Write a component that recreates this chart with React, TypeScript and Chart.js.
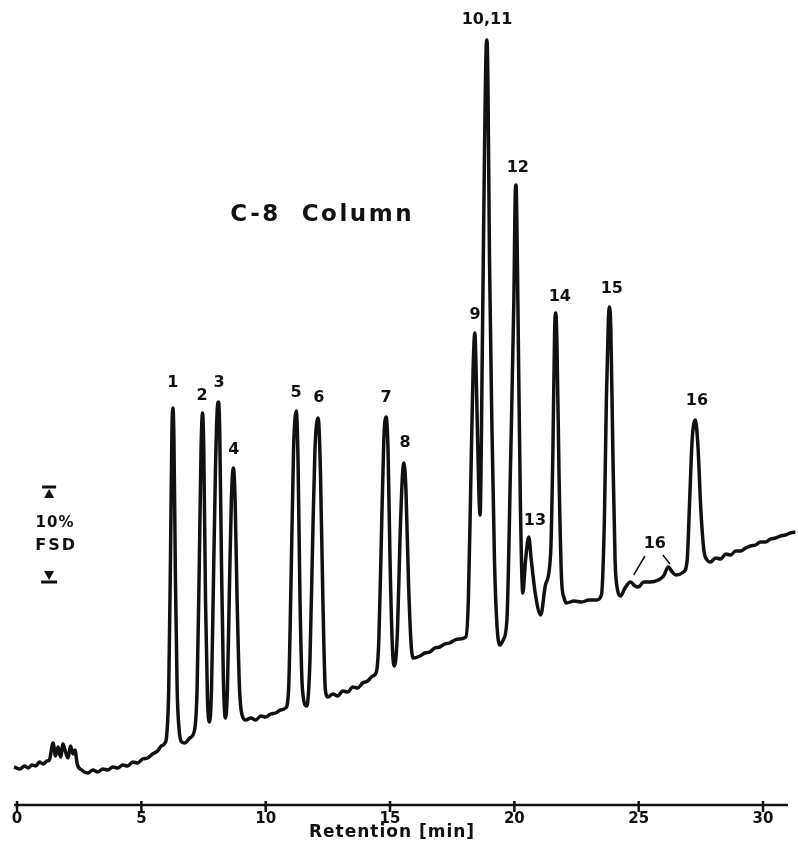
import { useEffect, useRef } from "react";
import { Chart, registerables } from "chart.js";

Chart.register(...registerables);

const FONT = '"DejaVu Sans", "Liberation Sans", sans-serif';
const INK = "#111111";

// Retention time (min) and detector response (arbitrary units; 95 units = 10% FSD)
const retentionMin = [
  -0.12, 0.12, 0.3, 0.45, 0.6, 0.75, 0.9, 1.05, 1.2, 1.3, 1.45, 1.55, 1.65, 1.75, 1.85, 1.95, 2.05, 2.15, 2.25, 2.33, 2.42,
  2.6, 2.85, 3.05, 3.25, 3.45, 3.65, 3.85, 4.05, 4.25, 4.45, 4.65, 4.85, 5.05, 5.25, 5.45, 5.65, 5.8, 5.95,
  6.02, 6.1, 6.17, 6.23, 6.27, 6.31, 6.37, 6.44, 6.52, 6.62, 6.75, 6.95,
  7.14, 7.24, 7.32, 7.4, 7.46, 7.51, 7.58, 7.66, 7.74,
  7.82, 7.9, 7.98, 8.05, 8.1, 8.15, 8.22, 8.3, 8.38,
  8.46, 8.54, 8.62, 8.7, 8.77, 8.85, 8.95, 9.05, 9.2, 9.4, 9.6, 9.8, 10.0, 10.2, 10.4, 10.6, 10.8,
  10.92, 11.02, 11.12, 11.23, 11.3, 11.38, 11.48, 11.65,
  11.78, 11.88, 11.98, 12.11, 12.2, 12.3, 12.4, 12.5, 12.7, 12.9, 13.1, 13.3, 13.5, 13.7, 13.9, 14.1, 14.3, 14.45,
  14.55, 14.65, 14.75, 14.84, 14.92, 15.0, 15.1, 15.18,
  15.3, 15.4, 15.5, 15.56, 15.64, 15.74, 15.85, 15.95, 16.2, 16.4, 16.6, 16.8, 17.0, 17.2, 17.4, 17.6, 17.8, 18.05,
  18.15, 18.25, 18.34, 18.41, 18.47, 18.55, 18.62,
  18.72, 18.8, 18.87, 18.9, 18.94, 19.0, 19.1, 19.2, 19.3, 19.42, 19.55,
  19.7, 19.85, 19.98, 20.04, 20.07, 20.1, 20.14, 20.24, 20.34,
  20.45, 20.58, 20.68, 20.85, 21.06,
  21.25, 21.46, 21.55, 21.62, 21.66, 21.71, 21.8, 21.9, 22.0, 22.1, 22.4, 22.7, 23.0, 23.3, 23.5,
  23.62, 23.7, 23.78, 23.83, 23.88, 23.96, 24.05, 24.15, 24.27, 24.45, 24.67, 24.85, 24.99, 25.2, 25.47, 25.79, 26.0,
  26.19, 26.35, 26.5, 26.8,
  26.95, 27.05, 27.15, 27.28, 27.38, 27.5, 27.62, 27.75, 27.88, 28.1, 28.3, 28.5, 28.7, 28.9, 29.1, 29.3, 29.5, 29.7,
  29.9, 30.1, 30.3, 30.5, 30.7, 30.9, 31.1, 31.3,
];

const response = [
  37, 35, 38, 36, 39, 38, 42, 40, 43, 44, 61, 48, 57, 47, 60, 52, 46, 58, 50, 54, 40,
  34, 31, 34, 32, 35, 34, 37, 36, 39, 38, 42, 41, 45, 46, 50, 53, 58, 61,
  69, 114, 244, 374, 396, 364, 224, 114, 74, 62, 61, 66,
  74, 114, 224, 354, 391, 354, 204, 104, 82,
  114, 224, 334, 394, 402, 374, 244, 124, 86,
  114, 214, 304, 336, 304, 204, 114, 89, 84, 86, 84, 88, 87, 90, 91, 94, 96,
  114, 224, 354, 393, 344, 204, 114, 98,
  144, 254, 354, 386, 334, 204, 114, 107, 110, 108, 113, 112, 117, 116, 121, 123, 128, 132,
  164, 264, 364, 387, 354, 244, 154, 138,
  174, 264, 329, 341, 314, 224, 159, 146, 148, 151, 152, 156, 157, 160, 161, 164, 165, 167,
  204, 324, 434, 471, 424, 334, 289,
  474, 654, 759, 764, 714, 544, 374, 244, 179, 159, 164,
  184, 344, 504, 614, 619, 584, 504, 304, 211,
  244, 267, 244, 209, 189,
  219, 251, 354, 474, 491, 464, 324, 224, 206, 201, 203, 202, 204, 204, 209,
  284, 404, 484, 497, 474, 354, 244, 214, 208, 216, 222, 218, 217, 222, 222, 224, 228,
  237, 232, 229, 232,
  244, 304, 364, 384, 359, 294, 254, 244, 242, 246, 245, 250, 249, 253, 253, 256, 258, 259,
  262, 262, 265, 266, 268, 269, 271, 272,
];

const xTickValues = [0, 5, 10, 15, 20, 25, 30];

const peakLabels = ["1", "2", "3", "4", "5", "6", "7", "8", "9", "10,11", "12", "13", "14", "15", "16", "16"];
const peakLabelTimes = [6.26, 7.44, 8.12, 8.72, 11.22, 12.14, 14.84, 15.6, 18.42, 18.9, 20.14, 20.83, 21.83, 23.92, 27.34, 25.65];
const peakLabelLevels = [421, 408, 421, 354, 411, 406, 406, 361, 489, 784, 636, 283, 507, 515, 403, 260];

export default function App() {
  const ref = useRef<HTMLCanvasElement>(null);

  useEffect(() => {
    if (!ref.current) return;

    const annot = {
      id: "annot",
      afterDraw(chart: any) {
        const { ctx, chartArea } = chart;
        const xs = chart.scales.x;
        const ys = chart.scales.y;
        const px = (t: number) => xs.getPixelForValue(t);
        const py = (v: number) => ys.getPixelForValue(v);
        ctx.save();
        ctx.fillStyle = INK;
        ctx.strokeStyle = INK;

        // x axis line + tick marks
        const axisY = chartArea.bottom + 1;
        ctx.lineWidth = 2.5;
        ctx.beginPath();
        ctx.moveTo(px(-0.12), axisY);
        ctx.lineTo(px(31.0), axisY);
        ctx.stroke();
        xTickValues.forEach((v) => {
          ctx.beginPath();
          ctx.moveTo(px(v), axisY - 4);
          ctx.lineTo(px(v), axisY + 7);
          ctx.stroke();
        });

        // axis title
        ctx.font = `bold 17px ${FONT}`;
        (ctx as any).letterSpacing = "1px";
        ctx.textAlign = "center";
        ctx.textBaseline = "middle";
        ctx.fillText("Retention [min]", px(15.08), py(-29));

        // chart title
        ctx.font = `bold 23px ${FONT}`;
        (ctx as any).letterSpacing = "2.5px";
        ctx.fillText("C-8  Column", px(12.27), py(589));

        // peak labels
        ctx.font = `bold 16px ${FONT}`;
        (ctx as any).letterSpacing = "0px";
        peakLabels.forEach((lab, i) => {
          ctx.fillText(lab, px(peakLabelTimes[i]), py(peakLabelLevels[i]));
        });

        // leader lines for minor peak 16
        ctx.lineWidth = 1.5;
        ctx.beginPath();
        ctx.moveTo(px(25.25), py(248));
        ctx.lineTo(px(24.8), py(229));
        ctx.moveTo(px(25.97), py(249));
        ctx.lineTo(px(26.26), py(240));
        ctx.stroke();

        // 10% FSD scale marker
        const mt = 1.29;
        const top = 317;
        const bot = 222;
        const cx = px(mt);
        ctx.lineWidth = 3;
        ctx.beginPath();
        ctx.moveTo(cx - 7, py(top));
        ctx.lineTo(cx + 7, py(top));
        ctx.stroke();
        ctx.beginPath();
        ctx.moveTo(cx, py(top) + 2);
        ctx.lineTo(cx - 5, py(top) + 11);
        ctx.lineTo(cx + 5, py(top) + 11);
        ctx.closePath();
        ctx.fill();
        ctx.beginPath();
        ctx.moveTo(cx - 8, py(bot));
        ctx.lineTo(cx + 8, py(bot));
        ctx.stroke();
        ctx.beginPath();
        ctx.moveTo(cx, py(bot) - 2);
        ctx.lineTo(cx - 5, py(bot) - 11);
        ctx.lineTo(cx + 5, py(bot) - 11);
        ctx.closePath();
        ctx.fill();

        ctx.font = `bold 15px ${FONT}`;
        (ctx as any).letterSpacing = "1px";
        ctx.fillText("10%", px(1.53), py(281));
        (ctx as any).letterSpacing = "2px";
        ctx.font = `bold 16px ${FONT}`;
        ctx.fillText("FSD", px(1.57), py(258));
        (ctx as any).letterSpacing = "0px";
        ctx.restore();
      },
    };

    const chart = new Chart(ref.current, {
      type: "line",
      data: {
        datasets: [
          {
            data: retentionMin.map((t, i) => ({ x: t, y: response[i] })),
            borderColor: INK,
            borderWidth: 3.5,
            pointRadius: 0,
            cubicInterpolationMode: "monotone",
            fill: false,
          },
        ],
      },
      options: {
        animation: false,
        responsive: true,
        maintainAspectRatio: false,
        layout: { padding: { left: 13.3, right: 1.4, top: 0, bottom: 11 } },
        plugins: { legend: { display: false }, tooltip: { enabled: false } },
        scales: {
          x: {
            type: "linear",
            min: -0.15,
            max: 31.35,
            afterBuildTicks: (s: any) => {
              s.ticks = xTickValues.map((v) => ({ value: v }));
            },
            grid: { display: false, drawTicks: false },
            border: { display: false },
            ticks: {
              font: { family: FONT, weight: "bold", size: 15 },
              color: INK,
              padding: 6,
              autoSkip: false,
              maxRotation: 0,
            },
          },
          y: { display: false, min: 0, max: 804 },
        },
      },
      plugins: [annot],
    } as any);

    return () => chart.destroy();
  }, []);

  return (
    <div style={{ position: "absolute", left: 0, top: 0, width: 798, height: 845, background: "#fff" }}>
      <canvas ref={ref} />
    </div>
  );
}
